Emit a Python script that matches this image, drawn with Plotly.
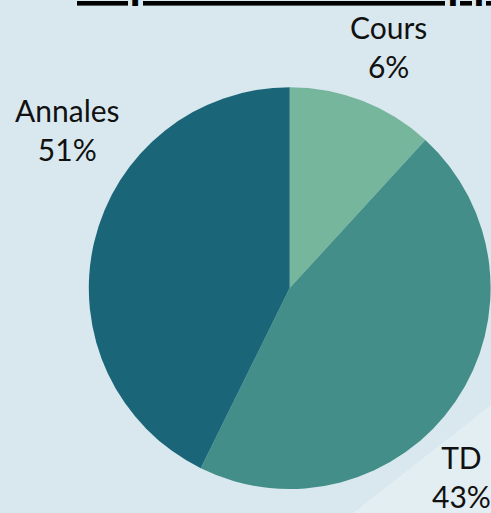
import plotly.graph_objects as go

# Data
categories = ["Cours", "TD", "Annales"]
slice_values = [11.8, 45.5, 42.7]          # slice sizes as drawn
percent_labels = ["6%", "43%", "51%"]      # percentages printed on the chart
slice_colors = ["#76b69d", "#438e88", "#1a6678"]

W, H = 491, 513
FONT = "Lato"

fig = go.Figure()
fig.add_trace(go.Pie(
    labels=categories,
    values=slice_values,
    sort=False,
    direction="clockwise",
    rotation=0,
    marker=dict(colors=slice_colors, line=dict(width=0)),
    textinfo="none",
    hoverinfo="label+percent",
    showlegend=False,
    domain=dict(x=[0.18, 1.0], y=[0.0468, 0.830]),
))

# lighter diagonal band in the background
fig.add_shape(type="path", xref="paper", yref="paper", layer="below",
              path=f"M {353/W} 0 L 1 {(H-405)/H} L 1 0 Z",
              fillcolor="#e2eef2", line=dict(width=0))

label_pos = {  # paper positions of label centres
    "Cours": (388 / W, 1 - 47 / H),
    "TD": (461 / W, 1 - 476 / H),
    "Annales": (67 / W, 1 - 129 / H),
}
for cat, pct in zip(categories, percent_labels):
    x, y = label_pos[cat]
    fig.add_annotation(x=x, y=y, xref="paper", yref="paper",
                       text=f"{cat}<br>{pct}", showarrow=False,
                       xanchor="center", yanchor="middle",
                       font=dict(family=FONT, size=30, color="#111111"))

# cut-off underlined title at the very top
fig.add_annotation(x=75 / W, y=1, xref="paper", yref="paper",
                   text="<b><u>Répartition des supports</u></b>",
                   showarrow=False, xanchor="left", yanchor="bottom", yshift=-10,
                   font=dict(family=FONT, size=46, color="#000000"))

fig.update_layout(
    width=W, height=H,
    margin=dict(l=0, r=0, t=0, b=0),
    paper_bgcolor="#d9e8ee",
    plot_bgcolor="#d9e8ee",
    font=dict(family=FONT),
)

fig.write_html("out.html", config={"displayModeBar": False},
               post_script="document.body.style.margin='0';document.body.style.overflow='hidden';")
